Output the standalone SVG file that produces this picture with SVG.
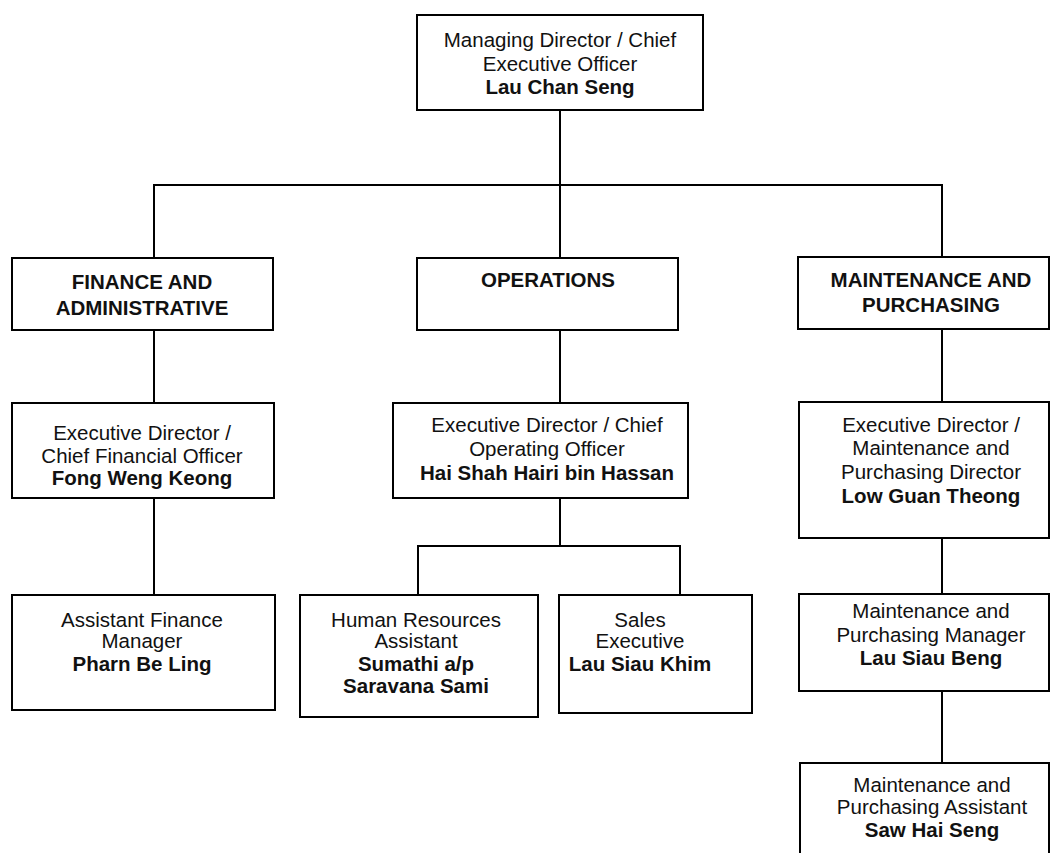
<svg xmlns="http://www.w3.org/2000/svg" width="1051" height="853" viewBox="0 0 1051 853">
<style>
.box{fill:#fff;stroke:#000;stroke-width:2}
.con{fill:none;stroke:#000;stroke-width:2}
text{font-family:"Liberation Sans",Arial,sans-serif;font-size:20.5px;fill:#111;text-anchor:middle}
.b{font-weight:bold}
</style>
<rect width="1051" height="853" fill="#fff"/>
<g id="connectors">
<path class="con" d="M560,110V258M154,258V185H942V258M154,330V403M560,330V403M942,330V402M154,498V595M560,498V546M418,595V546H680V595M942,538V594M942,691V763"/>
</g>
<g id="ceo">
<rect class="box" x="417" y="15" width="286" height="95"/>
<text x="560" y="47">Managing Director / Chief</text>
<text x="560" y="70.5">Executive Officer</text>
<text class="b" x="560" y="94">Lau Chan Seng</text>
</g>
<g id="finance">
<rect class="box" x="12" y="258" width="261" height="72"/>
<text class="b" x="142" y="289">FINANCE AND</text>
<text class="b" x="142" y="315">ADMINISTRATIVE</text>
</g>
<g id="operations">
<rect class="box" x="417" y="258" width="261" height="72"/>
<text class="b" x="548" y="287">OPERATIONS</text>
</g>
<g id="maintenance">
<rect class="box" x="798" y="257" width="251" height="72"/>
<text class="b" x="931" y="287">MAINTENANCE AND</text>
<text class="b" x="931" y="312">PURCHASING</text>
</g>
<g id="cfo">
<rect class="box" x="12" y="403" width="262" height="95"/>
<text x="142" y="440">Executive Director /</text>
<text x="142" y="463">Chief Financial Officer</text>
<text class="b" x="142" y="485">Fong Weng Keong</text>
</g>
<g id="coo">
<rect class="box" x="393" y="403" width="295" height="95"/>
<text x="547" y="432">Executive Director / Chief</text>
<text x="547" y="456">Operating Officer</text>
<text class="b" x="547" y="480">Hai Shah Hairi bin Hassan</text>
</g>
<g id="mpd">
<rect class="box" x="799" y="402" width="250" height="136"/>
<text x="931" y="432">Executive Director /</text>
<text x="931" y="455">Maintenance and</text>
<text x="931" y="479">Purchasing Director</text>
<text class="b" x="931" y="503">Low Guan Theong</text>
</g>
<g id="afm">
<rect class="box" x="12" y="595" width="263" height="115"/>
<text x="142" y="627">Assistant Finance</text>
<text x="142" y="648">Manager</text>
<text class="b" x="142" y="671">Pharn Be Ling</text>
</g>
<g id="hr">
<rect class="box" x="300" y="595" width="238" height="122"/>
<text x="416" y="627">Human Resources</text>
<text x="416" y="648">Assistant</text>
<text class="b" x="416" y="671">Sumathi a/p</text>
<text class="b" x="416" y="693">Saravana Sami</text>
</g>
<g id="sales">
<rect class="box" x="559" y="595" width="193" height="118"/>
<text x="640" y="627">Sales</text>
<text x="640" y="648">Executive</text>
<text class="b" x="640" y="671">Lau Siau Khim</text>
</g>
<g id="mpm">
<rect class="box" x="799" y="594" width="250" height="97"/>
<text x="931" y="618">Maintenance and</text>
<text x="931" y="642">Purchasing Manager</text>
<text class="b" x="931" y="665">Lau Siau Beng</text>
</g>
<g id="mpa">
<rect class="box" x="800" y="763" width="249" height="96"/>
<text x="932" y="792">Maintenance and</text>
<text x="932" y="814">Purchasing Assistant</text>
<text class="b" x="932" y="837">Saw Hai Seng</text>
</g>
</svg>
